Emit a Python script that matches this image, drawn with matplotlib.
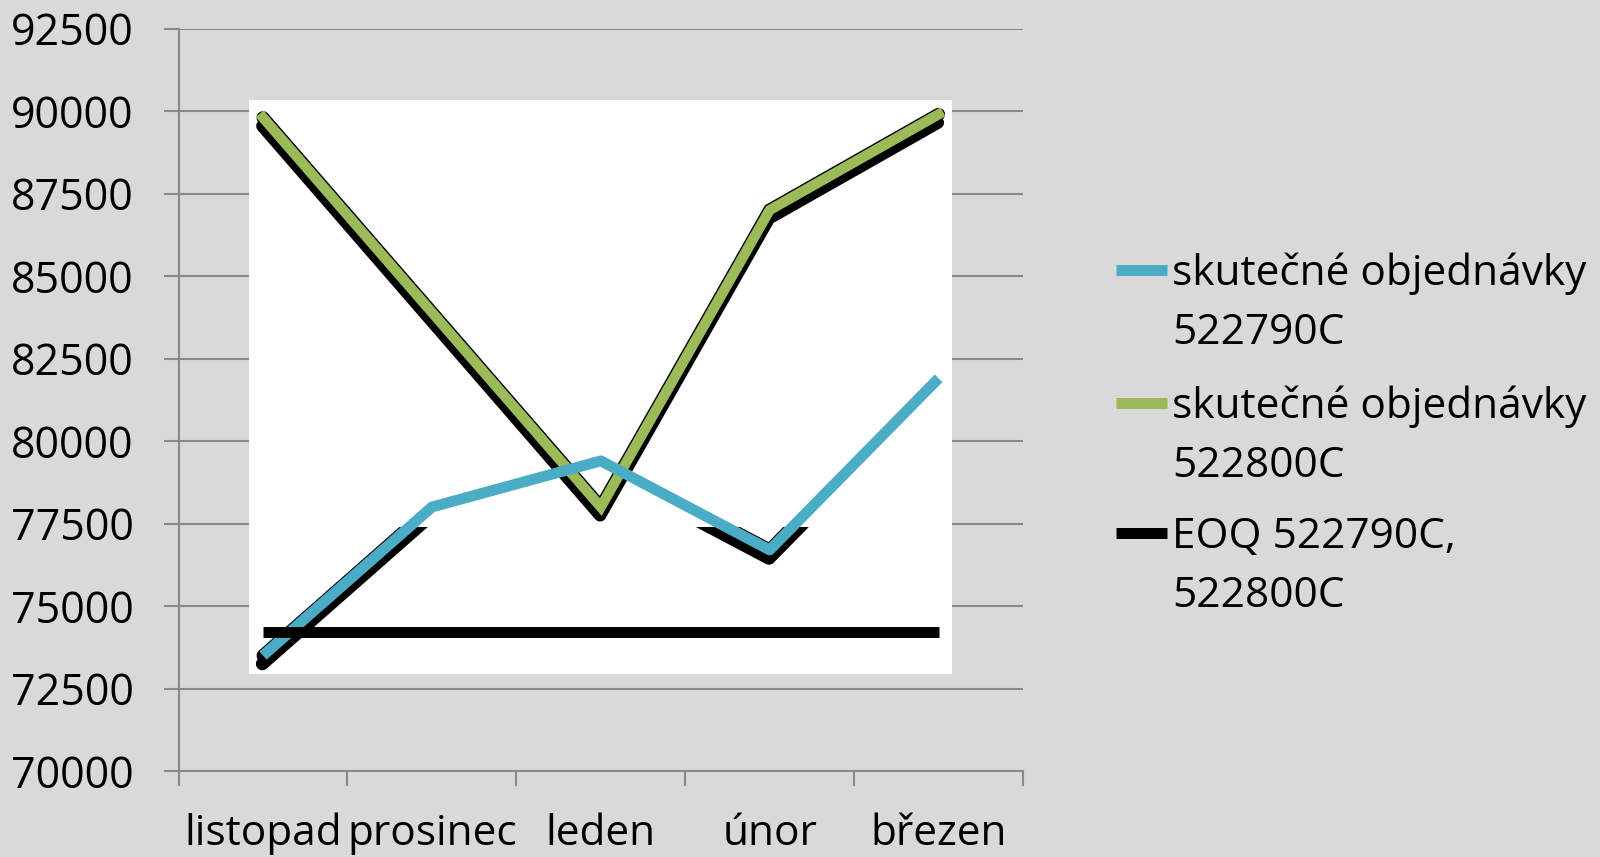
import matplotlib
matplotlib.use('Agg')
import matplotlib.pyplot as plt
import matplotlib.patheffects as pe
from matplotlib.patches import Rectangle
from matplotlib.lines import Line2D
import numpy as np

# ---- data ----
months = ['listopad', 'prosinec', 'leden', 'únor', 'březen']
orders_522790C = [73500, 78000, 79400, 76700, 81900]
orders_522800C = [89800, 83900, 78000, 87000, 89900]
eoq_values = [74200, 74200, 74200, 74200, 74200]
y_ticks = [70000, 72500, 75000, 77500, 80000, 82500, 85000, 87500, 90000, 92500]
legend_labels = [['skutečné objednávky', '522790C'],
                 ['skutečné objednávky', '522800C'],
                 ['EOQ 522790C,', '522800C']]

# ---- style ----
BG = '#d9d9d9'
GRID = '#898989'
BLUE = '#4bacc6'
GREEN = '#9bbb59'
FS = 30.5

plt.rcParams['font.family'] = ['Open Sans', 'DejaVu Sans']

fig = plt.figure(figsize=(16, 8.57), dpi=100, facecolor=BG)
ax = fig.add_axes([0.1116, 0.1003, 0.5278, 0.8664])
ax.set_facecolor(BG)

x = np.arange(len(months))
ax.set_xlim(-0.5, len(months) - 0.5)
ax.set_ylim(y_ticks[0], y_ticks[-1])

# grid & spines
ax.set_axisbelow(True)
ax.yaxis.grid(True, color=GRID, lw=1.5)
for s in ['top', 'right']:
    ax.spines[s].set_visible(False)
for s in ['left', 'bottom']:
    ax.spines[s].set_color(GRID)
    ax.spines[s].set_linewidth(1.5)

ax.set_yticks(y_ticks)
ax.set_yticklabels([str(v) for v in y_ticks])
ax.tick_params(axis='y', length=10.8, width=1.5, color=GRID, pad=21.6,
               labelsize=31, labelcolor='black')

ax.set_xticks(np.arange(-0.5, len(months), 1.0))
ax.set_xticklabels([])
ax.tick_params(axis='x', which='major', length=10.8, width=1.5, color=GRID)
ax.set_xticks(x, minor=True)
ax.set_xticklabels(months, minor=True)
ax.tick_params(axis='x', which='minor', length=0, pad=30, labelsize=FS,
               labelcolor='black')

# white pasted area behind the lines
ax.add_patch(Rectangle((0.0834, 0.131), 0.8326, 0.773, transform=ax.transAxes,
                       facecolor='white', edgecolor='none', zorder=0.8))

# green series with black outline + shadow
lw_g = 7.4
ax.plot(x, orders_522800C, color=GREEN, lw=lw_g, solid_joinstyle='miter',
        zorder=3,
        path_effects=[pe.Stroke(offset=(-0.5, -6.0), linewidth=lw_g + 1.5,
                                foreground='black', capstyle='round',
                                joinstyle='round'),
                      pe.Stroke(linewidth=lw_g + 2.0, foreground='black',
                                capstyle='round'),
                      pe.Normal()])

# partial black shadow under the blue series
lw_b = 7.8
shadow, = ax.plot(x, orders_522790C, color='black', lw=lw_b + 2, zorder=3.5,
                  solid_capstyle='round',
                  path_effects=[pe.Stroke(offset=(-0.5, -6.0), linewidth=lw_b + 1.5,
                                          foreground='black', capstyle='round',
                                          joinstyle='round'),
                                pe.Stroke(linewidth=lw_b + 1.5, foreground='black',
                                          capstyle='round')])
clip = Rectangle((0, 0), 1, 0.329, transform=ax.transAxes)
shadow.set_clip_path(clip)

ax.plot(x, orders_522790C, color=BLUE, lw=lw_b, zorder=4, solid_capstyle='butt')

# EOQ line
ax.plot(x, eoq_values, color='black', lw=7.9, zorder=5, solid_capstyle='butt')

# ---- manual legend ----
colors = [BLUE, GREEN, 'black']
H = 857.0
W = 1600.0
handle_y = [270, 403, 533]
for i, (lab, col) in enumerate(zip(legend_labels, colors)):
    hy = 1 - handle_y[i] / H
    fig.add_artist(Line2D([1116 / W, 1167 / W], [hy, hy], color=col, lw=7.9,
                          solid_capstyle='butt', transform=fig.transFigure))
    base1 = handle_y[i] + 15
    for j, line in enumerate(lab):
        fig.text(1172 / W, 1 - (base1 + 59 * j) / H, line, fontsize=FS,
                 va='baseline', ha='left', color='black')

fig.savefig('out.png', dpi=100, facecolor=BG)
